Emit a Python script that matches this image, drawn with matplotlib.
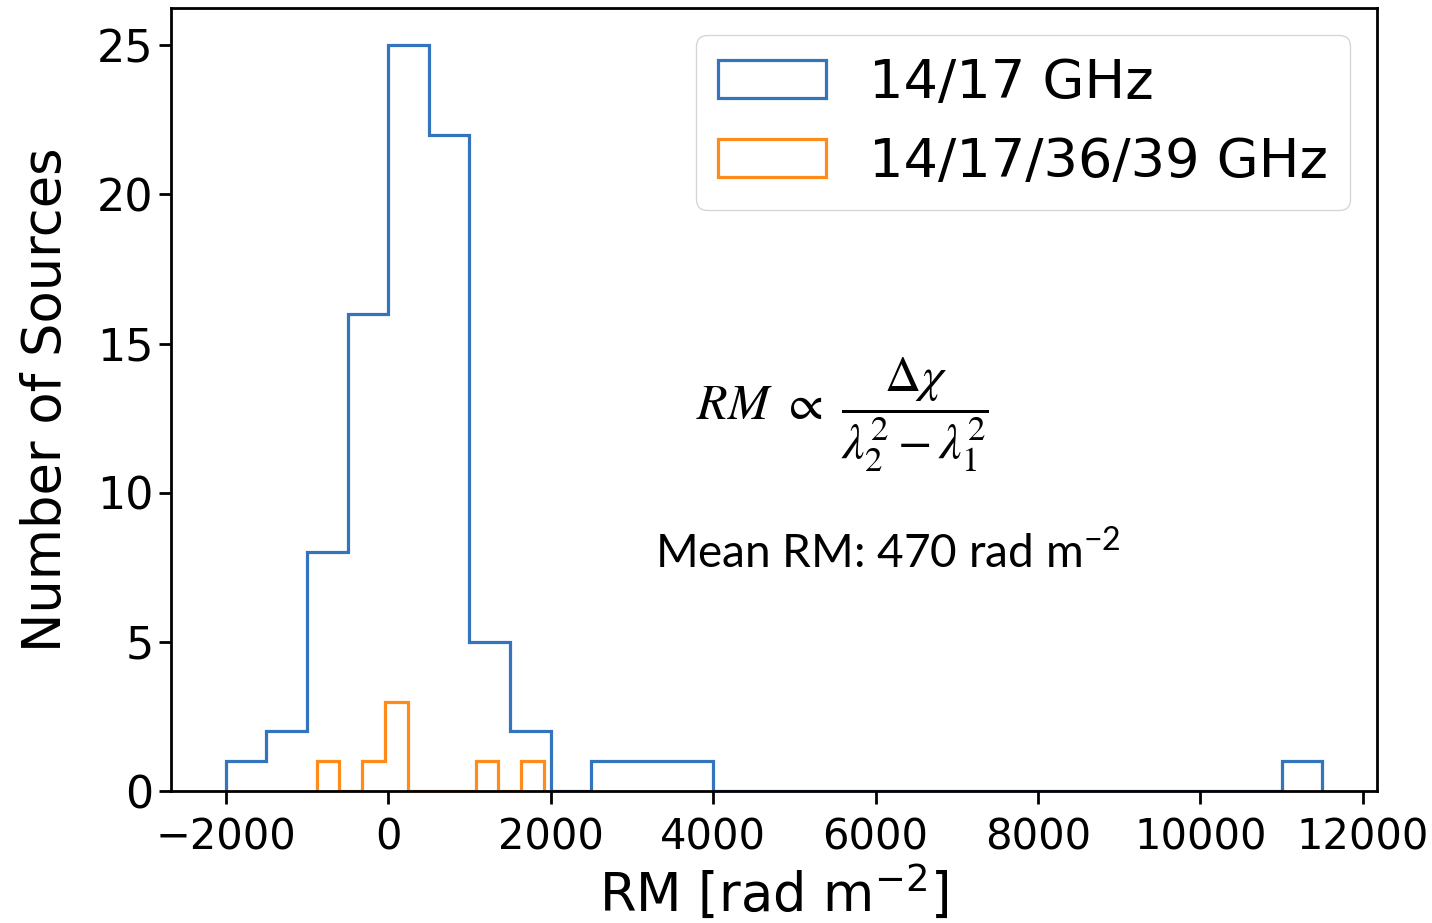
import numpy as np
import matplotlib
matplotlib.use('Agg')
import matplotlib.pyplot as plt

# Rotation measure histograms
BLUE_LABEL = '14/17 GHz'
ORANGE_LABEL = '14/17/36/39 GHz'

blue_edges = np.arange(-2000, 11501, 500)
blue_counts = [1, 2, 8, 16, 25, 22, 5, 2, 0, 1, 1, 1,
               0, 0, 0, 0, 0, 0, 0, 0, 0, 0, 0, 0, 0, 0, 1]

orange_edges = np.linspace(-880, 1917, 11)
orange_counts = [1, 0, 1, 3, 0, 0, 0, 1, 0, 1]

MEAN_TEXT = 'Mean RM: 470 rad m$^{\\mathregular{-2}}$'
FORMULA = r'$RM\ \propto\ \dfrac{\Delta\chi}{\lambda_2^2 - \lambda_1^2}$'


def draw_hist(ax, edges, counts, color, label):
    centers = 0.5 * (edges[:-1] + edges[1:])
    ax.hist(centers, bins=edges, weights=counts, histtype='step',
            color=color, linewidth=2.3, label=label)


def main():
    fig = plt.figure(figsize=(14.32, 9.23), dpi=100)
    ax = fig.add_axes([0.1194, 0.143, 0.8422, 0.8483])

    draw_hist(ax, blue_edges, blue_counts, '#3474bc', BLUE_LABEL)
    draw_hist(ax, orange_edges, orange_counts, '#ff8c1a', ORANGE_LABEL)

    ax.set_xticks([-2000, 0, 2000, 4000, 6000, 8000, 10000, 12000])
    ax.set_yticks([0, 5, 10, 15, 20, 25])
    ax.tick_params(labelsize=30, length=9, width=2)
    ax.tick_params(axis='x', pad=9)
    ax.tick_params(axis='y', labelsize=32)
    for sp in ax.spines.values():
        sp.set_linewidth(2)

    ax.set_xlabel('RM [rad m$^{-2}$]', fontsize=38, labelpad=4)
    ax.set_ylabel('Number of Sources', fontsize=38, labelpad=18)

    ax.legend(loc='upper right', fontsize=39)

    ax.text(0.557, 0.48, FORMULA, transform=ax.transAxes, ha='center',
            va='center', fontsize=36, math_fontfamily='stix')
    ax.text(0.594, 0.304, MEAN_TEXT, transform=ax.transAxes, ha='center',
            va='center', fontsize=33, family='Lato')

    fig.savefig('out.png', dpi=100)


if __name__ == '__main__':
    main()
